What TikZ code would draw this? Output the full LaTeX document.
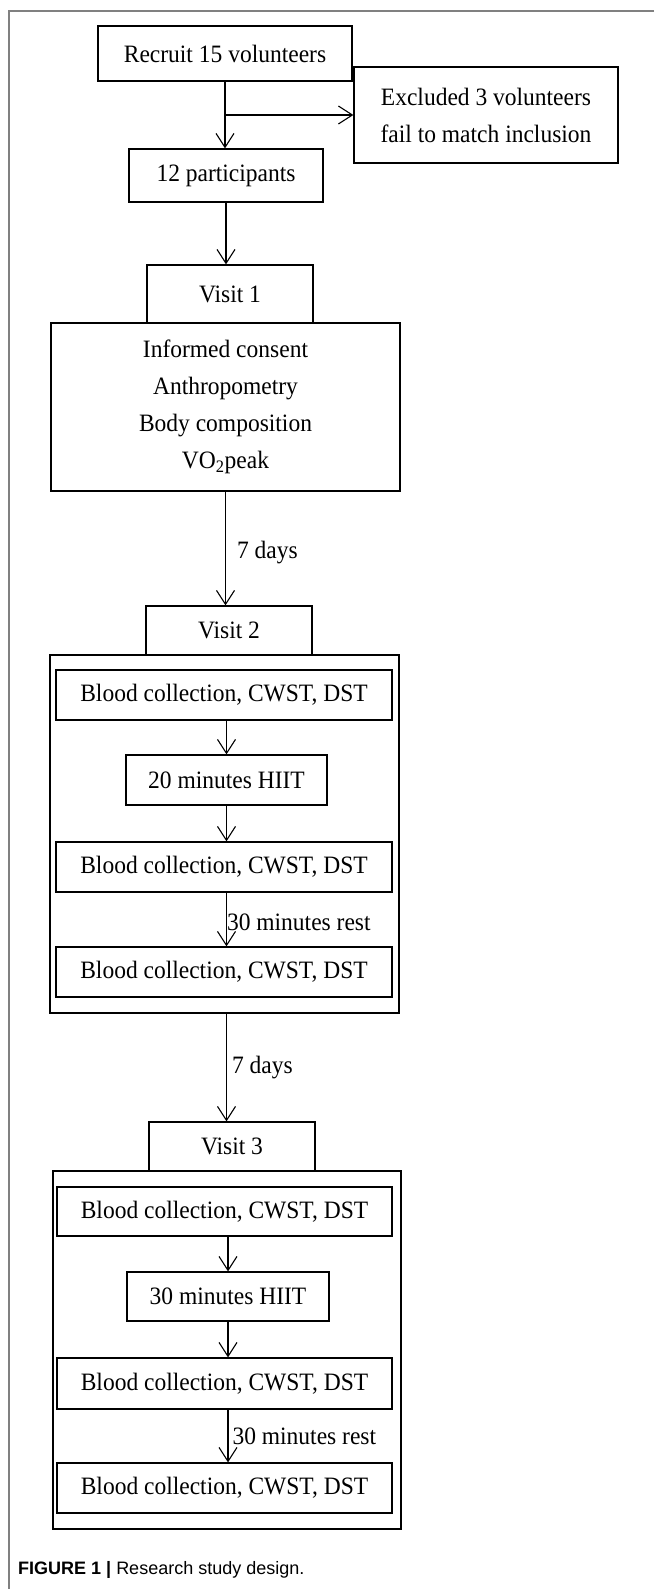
\documentclass[tikz,border=0pt]{standalone}
\usepackage{fontspec}
\setmainfont{Liberation Serif}[FakeStretch=0.94]
\newfontfamily\capfont{Liberation Sans}
\usetikzlibrary{arrows.meta}

\tikzset{
  box/.style={draw, line width=1.2pt, inner sep=0pt, align=center},
  flow/.style={draw, line width=1.1pt,
    -{Straight Barb[length=14pt,width=18pt,line width=1.1pt]}},
}

\begin{document}
\begin{tikzpicture}[x=1pt,y=-1pt,font=\fontsize{25}{37}\selectfont]
\useasboundingbox (0,0) rectangle (654,1589);

% page frame
\draw[gray, line width=1.2pt] (654,11) -- (9,11) -- (9,1589);

\begin{scope}[every node/.style={box}]
  \node[minimum width=254, minimum height=55] (recruit)  at (225,53.5)  {Recruit 15 volunteers};
  \node[minimum width=264, minimum height=96] (excluded) at (486,115)   {Excluded 3 volunteers\\fail to match inclusion};
  \node[minimum width=194, minimum height=53] (parts)    at (226,175.5) {12 participants};

  \node[minimum width=166, minimum height=58]  (visit1) at (230,294)   {Visit 1};
  \node[minimum width=349, minimum height=168] (v1body) at (225.5,407) {Informed consent\\Anthropometry\\Body composition\\VO\textsubscript{2}peak};

  \node[minimum width=166, minimum height=49]  (visit2) at (229,630.5) {Visit 2};
  \node[minimum width=349, minimum height=358] (v2box)  at (224.5,834) {};
  \node[minimum width=336, minimum height=50]  (v2pre)  at (224,695)   {Blood collection, CWST, DST};
  \node[minimum width=201, minimum height=50]  (v2hiit) at (226.5,780) {20 minutes HIIT};
  \node[minimum width=336, minimum height=50]  (v2post) at (224,867)   {Blood collection, CWST, DST};
  \node[minimum width=336, minimum height=50]  (v2rest) at (224,972)   {Blood collection, CWST, DST};

  \node[minimum width=166, minimum height=49]  (visit3) at (232,1146.5)  {Visit 3};
  \node[minimum width=348, minimum height=358] (v3box)  at (227,1350)    {};
  \node[minimum width=335, minimum height=49]  (v3pre)  at (224.5,1211.5) {Blood collection, CWST, DST};
  \node[minimum width=202, minimum height=49]  (v3hiit) at (228,1296.5)  {30 minutes HIIT};
  \node[minimum width=335, minimum height=51]  (v3post) at (224.5,1383.5) {Blood collection, CWST, DST};
  \node[minimum width=335, minimum height=50]  (v3rest) at (224.5,1488)  {Blood collection, CWST, DST};
\end{scope}

\begin{scope}[every edge/.style={flow}, every node/.style={right}]
  \path (recruit.south) edge (recruit.south |- parts.north);
  \path (recruit.south |- excluded.west) edge (excluded.west);
  \path (parts.south) edge (parts.south |- visit1.north);
  \path (v1body.south) edge node[inner sep=11pt,yshift=-4pt] {7 days} (v1body.south |- visit2.north);

  \path (v2hiit.north |- v2pre.south)  edge (v2hiit.north);
  \path (v2hiit.south) edge (v2hiit.south |- v2post.north);
  \path (v2hiit.south |- v2post.south) edge node[inner sep=0pt,yshift=-3pt] {30 minutes rest} (v2hiit.south |- v2rest.north);
  \path (v2hiit.south |- v2box.south)  edge node[inner sep=5pt] {7 days} (v2hiit.south |- visit3.north);

  \path (v3hiit.north |- v3pre.south)  edge (v3hiit.north);
  \path (v3hiit.south) edge (v3hiit.south |- v3post.north);
  \path (v3hiit.south |- v3post.south) edge node[inner sep=4pt] {30 minutes rest} (v3hiit.south |- v3rest.north);
\end{scope}

\node[anchor=west, inner sep=0pt, font=\capfont\fontsize{18}{21}\selectfont] (caption) at (18,1570)
  {\textbf{FIGURE 1 |} Research study design.};

\end{tikzpicture}
\end{document}
